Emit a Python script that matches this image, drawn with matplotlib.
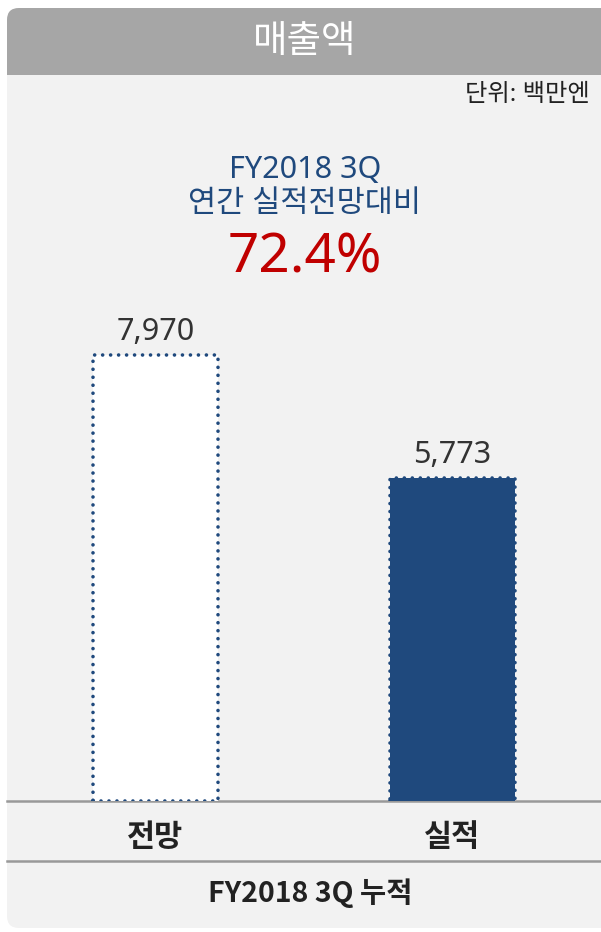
import matplotlib
matplotlib.use("Agg")
import matplotlib.pyplot as plt
from matplotlib.patches import FancyBboxPatch, Rectangle

plt.rcParams['font.family'] = ['Noto Sans', 'Noto Sans CJK KR', 'DejaVu Sans']

# data
categories = ["전망", "실적"]
values = [7970, 5773]
title = "매출액"
unit = "단위: 백만엔"
subtitle = "FY2018 3Q\n연간 실적전망대비"
ratio = "72.4%"
footer = "FY2018 3Q 누적"

navy = "#1f497d"
W, H = 601, 932
fig = plt.figure(figsize=(W / 100, H / 100), dpi=100)

# background layer in pixel coords
bg = fig.add_axes([0, 0, 1, 1])
bg.set_xlim(0, W)
bg.set_ylim(H, 0)
bg.axis("off")

bg.add_patch(FancyBboxPatch((7, 8), 640, 920, boxstyle="round,pad=0,rounding_size=12",
                            fc="#f2f2f2", ec="none", zorder=1))
bg.add_patch(FancyBboxPatch((7, 8), 640, 90, boxstyle="round,pad=0,rounding_size=12",
                            fc="#a6a6a6", ec="none", zorder=2))
bg.add_patch(Rectangle((7, 75), 640, 40, fc="#f2f2f2", ec="none", zorder=3))

bg.text(305, 42, title, color="white", fontsize=27, ha="center", va="center", zorder=4)
bg.text(590, 95, unit, color="#222222", fontsize=17.5, ha="right", va="center", zorder=4)
bg.text(305, 187, subtitle, color=navy, fontsize=22, ha="center", va="center",
        linespacing=1.2, zorder=4)
bg.text(305, 258, ratio, color="#c00000", fontsize=39.5, ha="center", va="center", zorder=4)

bg.plot([7, W], [801, 801], color="#999999", lw=1.8, zorder=4)
bg.plot([7, W], [861, 861], color="#999999", lw=1.8, zorder=4)
bg.text(310, 893, footer, color="#222222", fontsize=20.5, fontweight="bold",
        family=['Noto Sans CJK KR'], ha="center", va="center", zorder=4)

# bar chart
ax = fig.add_axes([7 / W, (H - 801) / H, (W - 7) / W, 701 / H])
ax.patch.set_alpha(0)
ax.set_xlim(-0.5, 1.5)
ax.set_ylim(0, 12530)
x = range(len(categories))
bars = ax.bar(x, values, width=0.42, color=["white", navy], edgecolor=navy,
              linewidth=2.6, linestyle=(0, (0.01, 2.2)), zorder=5)
for b in bars:
    b.set_capstyle("round")
for xi, v in zip(x, values):
    ax.text(xi, v + 270, f"{v:,}", ha="center", va="baseline", fontsize=22, color="#333333")
ax.set_xticks(list(x))
ax.set_xticklabels(categories, fontsize=22, fontweight="bold", color="#222222")
ax.tick_params(axis="x", length=0, pad=16)
ax.set_yticks([])
for s in ax.spines.values():
    s.set_visible(False)

fig.savefig("out.png", dpi=100)
